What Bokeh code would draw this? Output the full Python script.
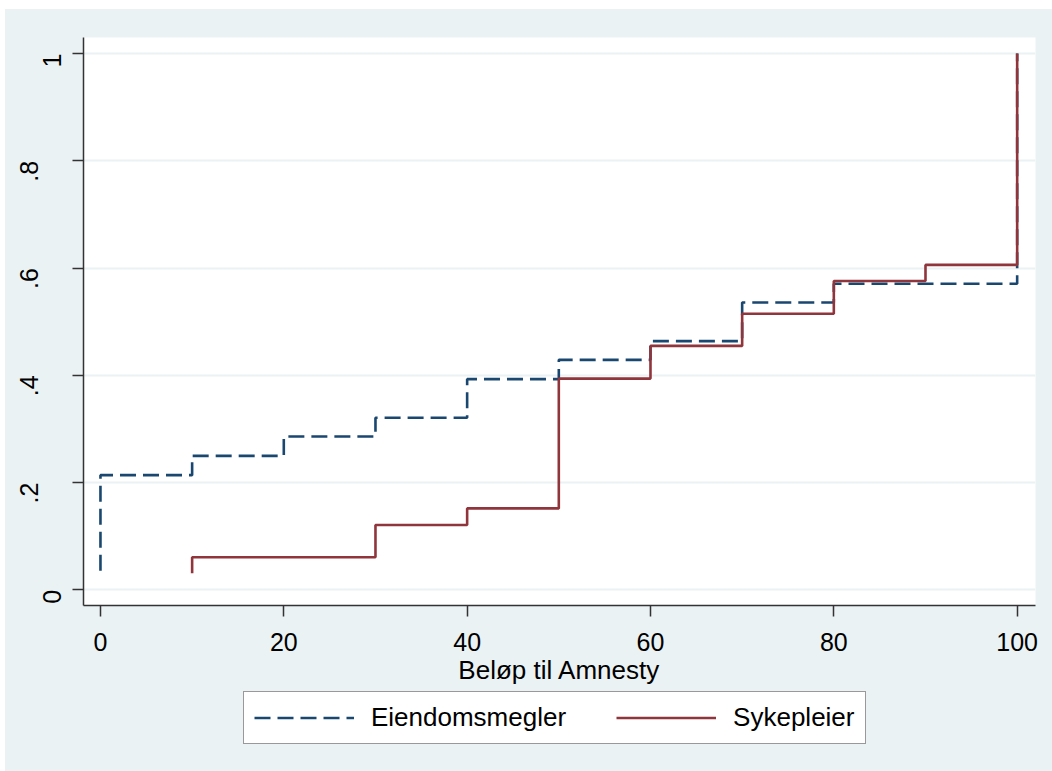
import math
from bokeh.plotting import figure
from bokeh.layouts import column
from bokeh.models import Range1d, FixedTicker, Legend, LegendItem, LinearAxis
from bokeh.embed import file_html
from bokeh.resources import INLINE

# ---- data ----
eiendom_x = [0, 0, 10, 20, 30, 40, 50, 60, 70, 80, 100]
eiendom_y = [0.036, 0.214, 0.25, 0.286, 0.321, 0.393, 0.429, 0.464, 0.536, 0.571, 1.0]
syke_x = [10, 10, 30, 40, 50, 60, 70, 80, 90, 100]
syke_y = [0.031, 0.061, 0.121, 0.152, 0.394, 0.455, 0.515, 0.576, 0.606, 1.0]

x_ticks = [0, 20, 40, 60, 80, 100]
y_ticks = [0, 0.2, 0.4, 0.6, 0.8, 1.0]
y_tick_labels = ["0", ".2", ".4", ".6", ".8", "1"]
series_names = ["Eiendomsmegler", "Sykepleier"]
x_title = "Beløp til Amnesty"

BG = "#EAF2F3"
BLUE = "#1A476F"
RED = "#90353B"
FONT = "Liberation Sans"
BLUE_STYLE = dict(line_color=BLUE, line_width=2.6, line_dash="16 7")
RED_STYLE = dict(line_color=RED, line_width=2.6)

TOTAL_W = 1047

p = figure(frame_width=952, frame_height=568, output_backend="svg", toolbar_location=None,
           x_range=Range1d(-1.85, 102.0), y_range=Range1d(-0.029, 1.030),
           min_border_left=78, min_border_top=28, min_border_right=17, min_border_bottom=80)
p.border_fill_color = BG
p.background_fill_color = "white"
p.outline_line_color = None

p.step(eiendom_x, eiendom_y, mode="after", **BLUE_STYLE)
p.step(syke_x, syke_y, mode="after", **RED_STYLE)

# labels without a leading dot sit closer to the axis than the dotted ones (as in the reference)
near_labels = {t: (l if not l.startswith(".") else "") for t, l in zip(y_ticks, y_tick_labels)}
far_ticks = [t for t, l in zip(y_ticks, y_tick_labels) if l.startswith(".")]
far_labels = {t: l for t, l in zip(y_ticks, y_tick_labels) if l.startswith(".")}

p.xaxis.ticker = FixedTicker(ticks=x_ticks)
p.yaxis.ticker = FixedTicker(ticks=y_ticks)
p.yaxis.major_label_overrides = near_labels

y2 = LinearAxis(ticker=FixedTicker(ticks=far_ticks), major_label_overrides=far_labels)
p.add_layout(y2, "left")

for ax in (p.xaxis[0], p.yaxis[0], y2):
    ax.axis_line_color = "#333333"
    ax.axis_line_width = 1.5
    ax.major_tick_line_color = "#333333"
    ax.major_tick_line_width = 1.5
    ax.major_tick_out = 11
    ax.major_tick_in = 0
    ax.minor_tick_line_color = None
    ax.major_label_text_font = FONT
    ax.major_label_text_font_size = "25px"
    ax.major_label_text_color = "black"
for ax in (p.yaxis[0], y2):
    ax.major_label_orientation = math.pi / 2
y2.axis_line_color = None
y2.major_tick_line_color = None
y2.major_tick_out = 0
p.yaxis[0].major_label_standoff = 20
y2.major_label_standoff = 2
p.xaxis.major_label_standoff = 16

p.xaxis.axis_label = x_title
p.xaxis.axis_label_text_font = FONT
p.xaxis.axis_label_text_font_size = "26px"
p.xaxis.axis_label_text_font_style = "normal"
p.xaxis.axis_label_text_color = "black"
p.xaxis.axis_label_standoff = 1

p.xgrid.grid_line_color = None
p.ygrid.ticker = FixedTicker(ticks=y_ticks)
p.ygrid.grid_line_color = BG
p.ygrid.grid_line_width = 2

# ---- legend strip below the chart ----
q = figure(width=TOTAL_W, height=86, output_backend="svg", toolbar_location=None,
           x_range=Range1d(0, 1), y_range=Range1d(0, 1),
           x_axis_location=None, y_axis_location=None,
           min_border_left=0, min_border_right=0, min_border_top=0, min_border_bottom=0)
q.border_fill_color = BG
q.background_fill_color = BG
q.outline_line_color = None
q.xgrid.grid_line_color = None
q.ygrid.grid_line_color = None
# legend keys only (kept outside the visible range)
k1 = q.line(x=[-10, -9], y=[-10, -10], **BLUE_STYLE)
k2 = q.line(x=[-10, -9], y=[-10, -10], **RED_STYLE)

legend = Legend(items=[LegendItem(label=series_names[0], renderers=[k1]),
                       LegendItem(label=series_names[1], renderers=[k2])],
                orientation="horizontal", location=(160, 29))
legend.label_text_font = FONT
legend.label_text_font_size = "26px"
legend.label_text_color = "black"
legend.glyph_width = 100
legend.glyph_height = 25
legend.label_height = 25
legend.label_standoff = 17
legend.spacing = 50
legend.padding = 10
legend.border_line_color = "#333333"
legend.border_line_width = 1.2
legend.background_fill_color = "white"
legend.background_fill_alpha = 1.0
q.add_layout(legend, "center")

layout = column(p, q, spacing=0, margin=(9, 0, 0, 5), styles={"background-color": BG})
open("out.html", "w").write(file_html(layout, INLINE))
